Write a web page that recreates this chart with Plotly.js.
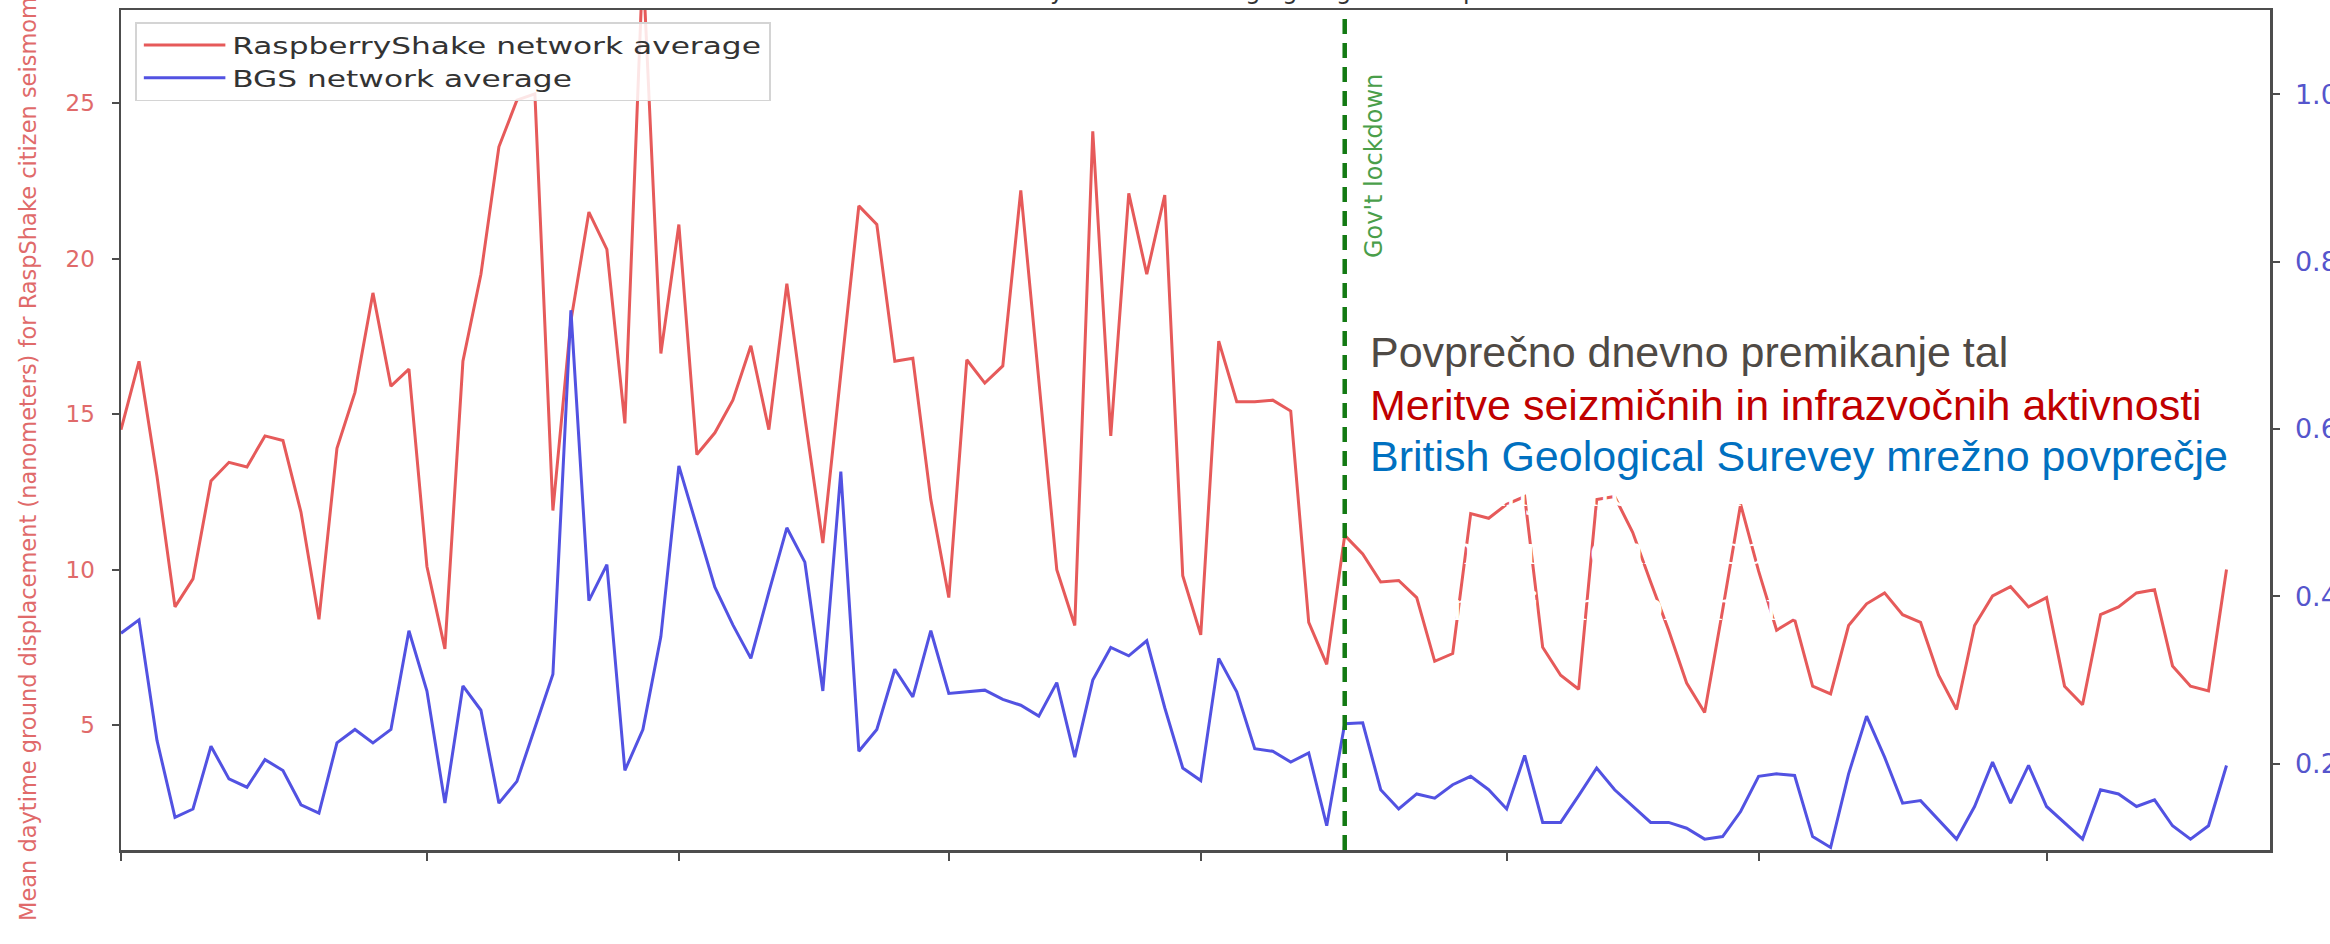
<!DOCTYPE html>
<html>
<head>
<meta charset="utf-8">
<script src="https://cdn.plot.ly/plotly-3.0.1.min.js"></script>
<style>
  html, body { margin: 0; padding: 0; background: #ffffff; }
  #chart { width: 2330px; height: 944px; }
</style>
</head>
<body>
<div id="chart"></div>
<script>
// ---------------- DATA ----------------
const START_DATE = '2020-01-15';          // first daily sample
const LOCKDOWN_DATE = '2020-03-23';
const X_RANGE = ['2020-01-15', '2020-05-13 10:00'];
const X_TICKS = ['2020-01-15', '2020-02-01', '2020-02-15', '2020-03-01',
                 '2020-03-15', '2020-04-01', '2020-04-15', '2020-05-01'];
const LEFT_TICKS = [5, 10, 15, 20, 25];
const RIGHT_TICKS = [0.2, 0.4, 0.6, 0.8, 1.0];

// RaspberryShake network average (nanometers), one value per day
const raspberryShake = [
  14.5, 16.7, 13.0, 8.8, 9.7, 12.85, 13.45, 13.3, 14.3, 14.15,
  11.85, 8.4, 13.9, 15.7, 18.9, 15.9, 16.45, 10.1, 7.45, 16.7,
  19.5, 23.6, 25.1, 25.3, 11.9, 18.0, 21.5, 20.3, 14.7, 29.5,
  16.95, 21.1, 13.7, 14.4, 15.45, 17.2, 14.5, 19.2, 14.9, 10.85,
  16.3, 21.7, 21.1, 16.7, 16.8, 12.25, 9.1, 16.75, 16.0, 16.55,
  22.2, 16.0, 10.0, 8.2, 24.1, 14.3, 22.1, 19.5, 22.05, 9.8,
  7.9, 17.35, 15.4, 15.4, 15.45, 15.1, 8.3, 6.95, 11.1, 10.5,
  9.6, 9.65, 9.1, 7.05, 7.3, 11.8, 11.65, 12.1, 12.35, 7.5,
  6.6, 6.15, 12.25, 12.35, 11.2, 9.6, 8.05, 6.35, 5.4, 8.7,
  12.1, 9.95, 8.05, 8.4, 6.25, 6.0, 8.2, 8.9, 9.25, 8.55,
  8.3, 6.6, 5.5, 8.2, 9.15, 9.45, 8.8, 9.1, 6.25, 5.65,
  8.55, 8.8, 9.25, 9.35, 6.9, 6.25, 6.1, 10.0
];

// BGS network average (right axis), one value per day
const bgs = [
  0.356, 0.372, 0.228, 0.136, 0.146, 0.221, 0.182, 0.172, 0.205, 0.192,
  0.151, 0.141, 0.225, 0.241, 0.225, 0.241, 0.359, 0.287, 0.153, 0.293,
  0.264, 0.153, 0.179, 0.244, 0.307, 0.742, 0.395, 0.438, 0.192, 0.241,
  0.352, 0.556, 0.484, 0.411, 0.366, 0.326, 0.405, 0.482, 0.441, 0.287,
  0.549, 0.215, 0.241, 0.313, 0.280, 0.359, 0.284, 0.286, 0.288, 0.277,
  0.270, 0.257, 0.297, 0.208, 0.300, 0.339, 0.329, 0.347, 0.267, 0.195,
  0.180, 0.326, 0.286, 0.218, 0.215, 0.202, 0.213, 0.126, 0.248, 0.249,
  0.169, 0.146, 0.164, 0.159, 0.175, 0.185, 0.169, 0.146, 0.210, 0.130,
  0.130, 0.162, 0.195, 0.169, 0.149, 0.130, 0.130, 0.123, 0.110, 0.113,
  0.143, 0.185, 0.188, 0.186, 0.113, 0.100, 0.188, 0.257, 0.208, 0.153,
  0.156, 0.133, 0.110, 0.149, 0.202, 0.153, 0.198, 0.149, 0.130, 0.110,
  0.169, 0.164, 0.149, 0.157, 0.126, 0.110, 0.126, 0.198
];

const SERIES_NAMES = ['RaspberryShake network average', 'BGS network average'];
const CHART_TITLE = 'Seismic noise levels: daily network averaging of ground displacement';
const Y_LEFT_TITLE = 'Mean daytime ground displacement (nanometers) for RaspShake citizen seismometers';
const LOCKDOWN_LABEL = "Gov't lockdown";
const OVERLAY_LINES = [
  'Povprečno dnevno premikanje tal',
  'Meritve seizmičnih in infrazvočnih aktivnosti',
  'British Geological Surevey mrežno povprečje'
];
const HIDDEN_LINES = ['Zmanjšanje hrupa', 'Znižanje emisij toplogrednih plinov', 'Zmanjšanje prometne'];

// daily dates from START_DATE
function dailyDates(start, n) {
  const out = [];
  const d0 = new Date(start + 'T00:00:00Z');
  for (let i = 0; i < n; i++) {
    const d = new Date(d0.getTime() + i * 86400000);
    out.push(d.toISOString().slice(0, 10));
  }
  return out;
}
const dates = dailyDates(START_DATE, raspberryShake.length);

// ---------------- STYLE ----------------
const MPL_FONT = 'DejaVu Sans, Verdana, sans-serif';
const SPINE = '#4d4d4d';

const traces = [
  { x: dates, y: raspberryShake, name: SERIES_NAMES[0], type: 'scatter', mode: 'lines',
    line: { color: '#e65a5a', width: 3 }, yaxis: 'y' },
  { x: dates, y: bgs, name: SERIES_NAMES[1], type: 'scatter', mode: 'lines',
    line: { color: '#5252e2', width: 3 }, yaxis: 'y2' }
];

const PL = 121, PR = 2270, PT = 10, PB = 850;
const px = v => (v - PL) / (PR - PL);
const py = v => (PB - v) / (PB - PT);

const SANS = 'Liberation Sans, Arial, sans-serif';
const SERIF = 'Liberation Serif, Times New Roman, serif';

const annotations = [
  { text: CHART_TITLE, xref: 'paper', yref: 'paper', x: px(1170), y: py(-9),
    xanchor: 'center', yanchor: 'middle', showarrow: false,
    font: { family: MPL_FONT, size: 24, color: '#333333' } },
  { text: Y_LEFT_TITLE, xref: 'paper', yref: 'paper', x: px(28), y: py(430),
    xanchor: 'center', yanchor: 'middle', showarrow: false, textangle: -90,
    font: { family: MPL_FONT, size: 22.5, color: '#e06a6a' } },
  { text: LOCKDOWN_LABEL, xref: 'paper', yref: 'paper', x: px(1374), y: py(166),
    xanchor: 'center', yanchor: 'middle', showarrow: false, textangle: -90,
    font: { family: MPL_FONT, size: 24, color: '#4a9e4a' } },
  { text: OVERLAY_LINES[0], xref: 'paper', yref: 'paper', x: px(1368), y: py(352),
    xanchor: 'left', yanchor: 'middle', showarrow: false,
    font: { family: SANS, size: 43, color: '#4f4a45' } },
  { text: OVERLAY_LINES[1], xref: 'paper', yref: 'paper', x: px(1368), y: py(405),
    xanchor: 'left', yanchor: 'middle', showarrow: false,
    font: { family: SANS, size: 43, color: '#c00000' } },
  { text: OVERLAY_LINES[2], xref: 'paper', yref: 'paper', x: px(1368), y: py(456),
    xanchor: 'left', yanchor: 'middle', showarrow: false,
    font: { family: SANS, size: 43, color: '#0070c0' } },
  { text: HIDDEN_LINES[0], xref: 'paper', yref: 'paper', x: px(1423), y: py(492),
    xanchor: 'left', yanchor: 'middle', showarrow: false,
    font: { family: SERIF, size: 44, color: '#ffffff' } },
  { text: HIDDEN_LINES[1], xref: 'paper', yref: 'paper', x: px(1423), y: py(549),
    xanchor: 'left', yanchor: 'middle', showarrow: false,
    font: { family: SERIF, size: 44, color: '#ffffff' } },
  { text: HIDDEN_LINES[2], xref: 'paper', yref: 'paper', x: px(1423), y: py(606),
    xanchor: 'left', yanchor: 'middle', showarrow: false,
    font: { family: SERIF, size: 44, color: '#ffffff' } }
];

const layout = {
  width: 2330, height: 944,
  margin: { l: PL, r: 2330 - PR, t: PT, b: 944 - PB, pad: 0 },
  paper_bgcolor: '#ffffff', plot_bgcolor: '#ffffff',
  showlegend: true,
  legend: {
    x: px(135), y: py(22), xanchor: 'left', yanchor: 'top',
    bgcolor: 'rgba(255,255,255,0.85)', bordercolor: '#d4d4d4', borderwidth: 1.5,
    font: { family: MPL_FONT, size: 23, color: '#333333' },
    tracegroupgap: 0, itemwidth: 60
  },
  xaxis: {
    type: 'date', range: X_RANGE, tickvals: X_TICKS, showticklabels: false,
    ticks: 'outside', ticklen: 8, tickwidth: 2, tickcolor: SPINE,
    showline: true, linecolor: SPINE, linewidth: 2.5, mirror: true,
    showgrid: false, zeroline: false, automargin: false
  },
  yaxis: {
    range: [0.98, 28.0], tickvals: LEFT_TICKS, ticks: 'outside', ticklen: 7, tickwidth: 2,
    tickcolor: SPINE, showline: true, linecolor: SPINE, linewidth: 2.5,
    showgrid: false, zeroline: false, automargin: false, ticklabelstandoff: 12,
    tickfont: { family: MPL_FONT, size: 23, color: '#e06a6a' }
  },
  yaxis2: {
    overlaying: 'y', side: 'right', range: [0.097, 1.1007], tickvals: RIGHT_TICKS,
    tickformat: '.1f', ticks: 'outside', ticklen: 7, tickwidth: 2, tickcolor: SPINE,
    showline: true, linecolor: SPINE, linewidth: 2.5,
    showgrid: false, zeroline: false, automargin: false, ticklabelstandoff: 10,
    tickfont: { family: MPL_FONT, size: 27, color: '#5555cc' }
  },
  shapes: [
    { type: 'line', xref: 'x', yref: 'paper', x0: LOCKDOWN_DATE, x1: LOCKDOWN_DATE,
      y0: 0, y1: 1, line: { color: '#137a13', width: 4.5, dash: '15px,9px' } }
  ],
  annotations: annotations
};

Plotly.newPlot('chart', traces, layout, { staticPlot: true, displayModeBar: false }).then(function (gd) {
  // the reference picture is stretched horizontally; widen the legend box to match
  const leg = gd.querySelector('g.legend');
  if (leg) {
    const bg = leg.querySelector('rect.bg');
    const w = bg ? parseFloat(bg.getAttribute('width')) : 0;
    const target = 634;
    if (w > 0) {
      const sx = target / w;
      const t = leg.getAttribute('transform') || '';
      leg.setAttribute('transform', t + ' scale(' + sx.toFixed(4) + ',1)');
    }
  }
});
</script>
</body>
</html>
